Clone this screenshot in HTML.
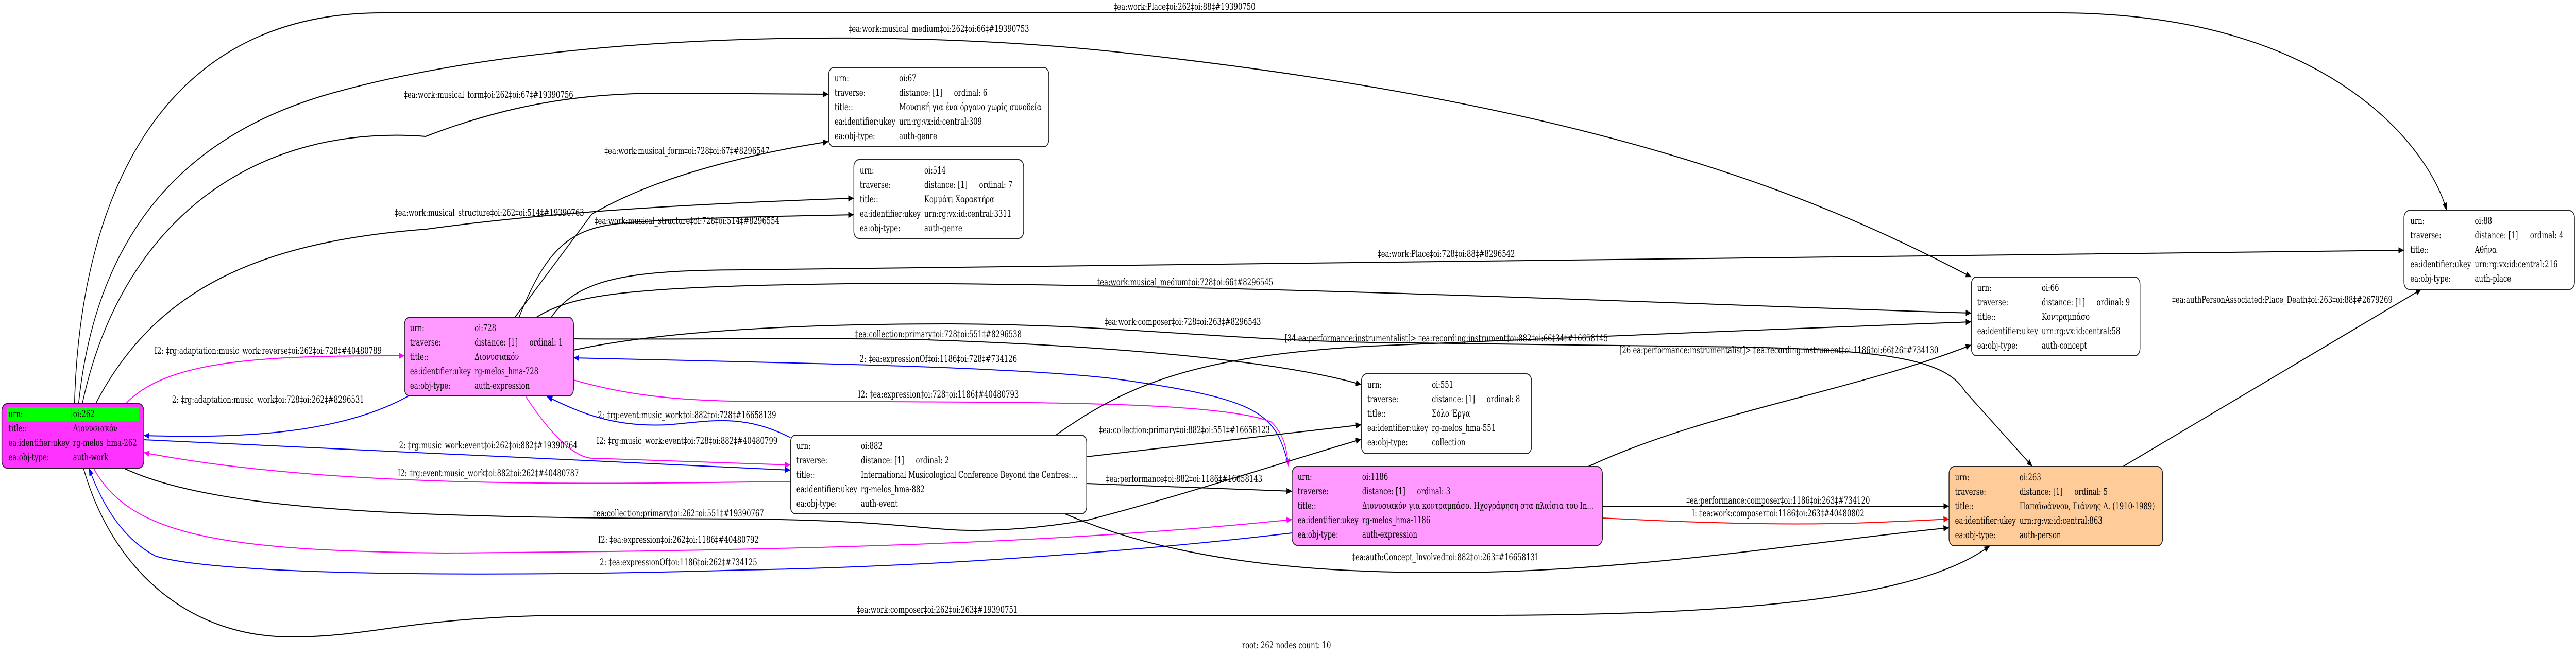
<!DOCTYPE html>
<html><head><meta charset="utf-8"><style>
html,body{margin:0;padding:0;background:#fff;width:100vw;height:100vh;overflow:hidden;}
svg{display:block;width:100vw;height:100vh;}
text{font-family:"DejaVu Serif","Liberation Serif",serif;font-size:18.4px;fill:#000;}
.e{fill:none;stroke-width:2;}
.k{stroke:#000;} .b{stroke:#0000ff;} .m{stroke:#ff00ff;} .r{stroke:#ff0000;}
.n{stroke:#222;stroke-width:2;}
.c{text-anchor:middle;}
</style></head><body>
<svg width="100%" height="100%" viewBox="0 0 6948 1274" preserveAspectRatio="none" xmlns="http://www.w3.org/2000/svg">
<defs>
<marker id="ak" markerUnits="userSpaceOnUse" markerWidth="16" markerHeight="12" refX="15" refY="6" orient="auto"><path d="M0,0 L15,6 L0,12 z" fill="#000"/></marker>
<marker id="ab" markerUnits="userSpaceOnUse" markerWidth="16" markerHeight="12" refX="15" refY="6" orient="auto"><path d="M0,0 L15,6 L0,12 z" fill="#0000ff"/></marker>
<marker id="am" markerUnits="userSpaceOnUse" markerWidth="16" markerHeight="12" refX="15" refY="6" orient="auto"><path d="M0,0 L15,6 L0,12 z" fill="#ff00ff"/></marker>
<marker id="ar" markerUnits="userSpaceOnUse" markerWidth="16" markerHeight="12" refX="15" refY="6" orient="auto"><path d="M0,0 L15,6 L0,12 z" fill="#ff0000"/></marker>
</defs>

<path class="e k" marker-end="url(#ak)" d="M201,784 C215,400 420,25 1030,25 L5550,25 C6300,25 6560,300 6599,409"/>
<text class="c" x="3195" y="19">‡ea:work:Place‡oi:262‡oi:88‡#19390750</text>

<path class="e k" marker-end="url(#ak)" d="M212,784 C260,450 500,260 900,180 C1500,60 2400,55 3000,100 C4300,200 4900,380 5317,538"/>
<text class="c" x="2532" y="62">‡ea:work:musical_medium‡oi:262‡oi:66‡#19390753</text>

<path class="e k" marker-end="url(#ak)" d="M222,784 C330,420 700,240 1148,265 C1400,195 1600,181 1800,181 L2235,183"/>
<text class="c" x="1318" y="190">‡ea:work:musical_form‡oi:262‡oi:67‡#19390756</text>

<path class="e k" marker-end="url(#ak)" d="M258,784 C420,560 700,470 1150,445 C1500,410 1900,395 2303,385"/>
<text class="c" x="1320" y="419">‡ea:work:musical_structure‡oi:262‡oi:514‡#19390763</text>

<path class="e k" marker-end="url(#ak)" d="M1389,616 L1596,416 C1800,330 2100,290 2235,275"/>
<text class="c" x="1853" y="299">‡ea:work:musical_form‡oi:728‡oi:67‡#8296547</text>

<path class="e k" marker-end="url(#ak)" d="M1400,616 C1480,470 1550,440 1700,432 C1900,422 2100,420 2303,417"/>
<text class="c" x="1853" y="435">‡ea:work:musical_structure‡oi:728‡oi:514‡#8296554</text>

<path class="e k" marker-end="url(#ak)" d="M1487,616 C1560,540 1700,525 2000,524 C2600,523 4500,500 6484,486"/>
<text class="c" x="3901" y="499">‡ea:work:Place‡oi:728‡oi:88‡#8296542</text>

<path class="e k" marker-end="url(#ak)" d="M1447,616 C1550,570 1700,555 2400,550 C3500,555 4500,590 5317,608"/>
<text class="c" x="3196" y="554">‡ea:work:musical_medium‡oi:728‡oi:66‡#8296545</text>

<path class="e k" marker-end="url(#ak)" d="M1547,680 C1800,640 2200,629 2560,629 C3000,630 3300,660 3700,665 L4700,674 C5100,680 5250,700 5300,760 L5482,906"/>
<text class="c" x="3190" y="631">‡ea:work:composer‡oi:728‡oi:263‡#8296543</text>

<path class="e k" marker-end="url(#ak)" d="M1547,658 C1800,660 2200,655 2500,660 C3000,672 3450,700 3672,747"/>
<text class="c" x="2531" y="655">‡ea:collection:primary‡oi:728‡oi:551‡#8296538</text>

<path class="e b" marker-end="url(#ab)" d="M3476,906 C3440,800 3400,775 3000,735 C2700,710 2000,703 1547,695"/>
<text class="c" x="2531" y="703">2: ‡ea:expressionOf‡oi:1186‡oi:728‡#734126</text>

<path class="e m" marker-end="url(#am)" d="M1547,738 C1800,790 2000,778 2400,780 C2800,782 3300,780 3430,820 C3470,850 3470,880 3476,906"/>
<text class="c" x="2531" y="772">I2: ‡ea:expression‡oi:728‡oi:1186‡#40480793</text>

<path class="e b" marker-end="url(#ab)" d="M2132,850 C2000,800 1900,820 1800,825 C1650,830 1560,800 1475,770"/>
<text class="c" x="1853" y="812">2: ‡rg:event:music_work‡oi:882‡oi:728‡#16658139</text>

<path class="e m" marker-end="url(#am)" d="M1418,770 C1500,860 1560,890 1600,890 L2132,903"/>
<text class="c" x="1853" y="862">I2: ‡rg:music_work:event‡oi:728‡oi:882‡#40480799</text>

<path class="e b" marker-end="url(#ab)" d="M388,854 L2132,913"/>
<text class="c" x="1317" y="871">2: ‡rg:music_work:event‡oi:262‡oi:882‡#19390764</text>

<path class="e m" marker-end="url(#am)" d="M2132,935 C1600,940 900,950 388,879"/>
<text class="c" x="1317" y="925">I2: ‡rg:event:music_work‡oi:882‡oi:262‡#40480787</text>

<path class="e b" marker-end="url(#ab)" d="M1102,769 C900,850 600,850 388,846"/>
<text class="c" x="723" y="782">2: ‡rg:adaptation:music_work‡oi:728‡oi:262‡#8296531</text>

<path class="e m" marker-end="url(#am)" d="M339,784 C450,700 700,690 1091,691"/>
<text class="c" x="723" y="687">I2: ‡rg:adaptation:music_work:reverse‡oi:262‡oi:728‡#40480789</text>

<path class="e k" marker-end="url(#ak)" d="M225,909 C300,1100 500,1237 786,1237 C1000,1237 1100,1200 1500,1195 L4000,1195 C4800,1195 5200,1150 5367,1060"/>
<text class="c" x="2528" y="1190">‡ea:work:composer‡oi:262‡oi:263‡#19390751</text>

<path class="e b" marker-end="url(#ab)" d="M3485,1035 C3200,1060 2600,1100 2000,1107 C1400,1120 600,1120 420,1080 C340,1050 280,990 240,909"/>
<text class="c" x="1830" y="1098">2: ‡ea:expressionOf‡oi:1186‡oi:262‡#734125</text>

<path class="e m" marker-end="url(#am)" d="M252,909 C350,1040 600,1070 1200,1074 C2000,1070 2800,1060 3485,1009"/>
<text class="c" x="1830" y="1054">I2: ‡ea:expression‡oi:262‡oi:1186‡#40480792</text>

<path class="e k" marker-end="url(#ak)" d="M333,909 C600,1000 1200,1005 2000,1008 C2400,1010 2500,1030 2620,1030 C2750,1030 2850,1020 2934,1010 C3200,960 3450,900 3672,853"/>
<text class="c" x="1830" y="1003">‡ea:collection:primary‡oi:262‡oi:551‡#19390767</text>

<path class="e k" marker-end="url(#ak)" d="M2931,939 L3485,954"/>
<text class="c" x="3194" y="936">‡ea:performance‡oi:882‡oi:1186‡#16658143</text>

<path class="e k" marker-end="url(#ak)" d="M2873,998 C3200,1100 3600,1112 3900,1112 C4400,1112 4900,1050 5257,1025"/>
<text class="c" x="3899" y="1088">‡ea:auth:Concept_Involved‡oi:882‡oi:263‡#16658131</text>

<path class="e k" marker-end="url(#ak)" d="M2848,845 C3050,740 3250,690 3700,672 C4200,655 4800,640 5317,625"/>
<text class="c" x="3901" y="663">[34 ea:performance:instrumentalist]&gt; ‡ea:recording:instrument‡oi:882‡oi:66‡34‡#16658145</text>

<path class="e k" marker-end="url(#ak)" d="M2931,887 L3672,825"/>
<text class="c" x="3195" y="841">‡ea:collection:primary‡oi:882‡oi:551‡#16658123</text>

<path class="e k" marker-end="url(#ak)" d="M4284,906 C4600,800 5000,760 5317,670"/>
<text class="c" x="4798" y="686">[26 ea:performance:instrumentalist]&gt; ‡ea:recording:instrument‡oi:1186‡oi:66‡26‡#734130</text>

<path class="e k" marker-end="url(#ak)" d="M4322,983 L5257,983"/>
<text class="c" x="4796" y="978">‡ea:performance:composer‡oi:1186‡oi:263‡#734120</text>

<path class="e r" marker-end="url(#ar)" d="M4322,1006 C4600,1016 4800,1020 5000,1016 C5100,1014 5200,1010 5257,1008"/>
<text class="c" x="4796" y="1003">I: ‡ea:work:composer‡oi:1186‡oi:263‡#40480802</text>

<path class="e k" marker-end="url(#ak)" d="M5726,906 L6531,562"/>
<text class="c" x="6156" y="588">‡ea:authPersonAssociated:Place_Death‡oi:263‡oi:88‡#2679269</text>

<rect class="n" x="5" y="784" width="383" height="125" rx="14" fill="#ff33ff"/>
<rect x="19" y="790" width="173" height="27" fill="#00ff00"/>
<rect x="194" y="790" width="181" height="27" fill="#00ff00"/>
<text x="23" y="810">urn:</text><text x="197" y="810">oi:262</text>
<text x="23" y="838">title::</text><text x="197" y="838">Διονυσιακόν</text>
<text x="23" y="866">ea:identifier:ukey</text><text x="197" y="866">rg-melos_hma-262</text>
<text x="23" y="894">ea:obj-type:</text><text x="197" y="894">auth-work</text>

<rect class="n" x="1091" y="616" width="456" height="153" rx="14" fill="#ff99ff"/>
<text x="1106" y="643">urn:</text><text x="1280" y="643">oi:728</text>
<text x="1106" y="671">traverse:</text><text x="1280" y="671">distance: [1]</text><text x="1428" y="671">ordinal: 1</text>
<text x="1106" y="699">title::</text><text x="1280" y="699">Διονυσιακόν</text>
<text x="1106" y="727">ea:identifier:ukey</text><text x="1280" y="727">rg-melos_hma-728</text>
<text x="1106" y="755">ea:obj-type:</text><text x="1280" y="755">auth-expression</text>

<rect class="n" x="2235" y="131" width="594" height="154" rx="14" fill="#fff"/>
<text x="2251" y="158">urn:</text><text x="2425" y="158">oi:67</text>
<text x="2251" y="186">traverse:</text><text x="2425" y="186">distance: [1]</text><text x="2573" y="186">ordinal: 6</text>
<text x="2251" y="214">title::</text><text x="2425" y="214">Μουσική για ένα όργανο χωρίς συνοδεία</text>
<text x="2251" y="242">ea:identifier:ukey</text><text x="2425" y="242">urn:rg:vx:id:central:309</text>
<text x="2251" y="270">ea:obj-type:</text><text x="2425" y="270">auth-genre</text>

<rect class="n" x="2303" y="310" width="458" height="153" rx="14" fill="#fff"/>
<text x="2319" y="337">urn:</text><text x="2493" y="337">oi:514</text>
<text x="2319" y="365">traverse:</text><text x="2493" y="365">distance: [1]</text><text x="2641" y="365">ordinal: 7</text>
<text x="2319" y="393">title::</text><text x="2493" y="393">Κομμάτι Χαρακτήρα</text>
<text x="2319" y="421">ea:identifier:ukey</text><text x="2493" y="421">urn:rg:vx:id:central:3311</text>
<text x="2319" y="449">ea:obj-type:</text><text x="2493" y="449">auth-genre</text>

<rect class="n" x="2132" y="845" width="799" height="153" rx="14" fill="#fff"/>
<text x="2148" y="872">urn:</text><text x="2322" y="872">oi:882</text>
<text x="2148" y="900">traverse:</text><text x="2322" y="900">distance: [1]</text><text x="2470" y="900">ordinal: 2</text>
<text x="2148" y="928">title::</text><text x="2322" y="928">International Musicological Conference Beyond the Centres:...</text>
<text x="2148" y="956">ea:identifier:ukey</text><text x="2322" y="956">rg-melos_hma-882</text>
<text x="2148" y="984">ea:obj-type:</text><text x="2322" y="984">auth-event</text>

<rect class="n" x="3485" y="906" width="837" height="153" rx="14" fill="#ff99ff"/>
<text x="3500" y="932">urn:</text><text x="3674" y="932">oi:1186</text>
<text x="3500" y="960">traverse:</text><text x="3674" y="960">distance: [1]</text><text x="3822" y="960">ordinal: 3</text>
<text x="3500" y="988">title::</text><text x="3674" y="988">Διονυσιακόν για κοντραμπάσο. Ηχογράφηση στα πλαίσια του In...</text>
<text x="3500" y="1016">ea:identifier:ukey</text><text x="3674" y="1016">rg-melos_hma-1186</text>
<text x="3500" y="1044">ea:obj-type:</text><text x="3674" y="1044">auth-expression</text>

<rect class="n" x="3672" y="726" width="459" height="155" rx="14" fill="#fff"/>
<text x="3688" y="753">urn:</text><text x="3862" y="753">oi:551</text>
<text x="3688" y="781">traverse:</text><text x="3862" y="781">distance: [1]</text><text x="4010" y="781">ordinal: 8</text>
<text x="3688" y="809">title::</text><text x="3862" y="809">Σόλο Έργα</text>
<text x="3688" y="837">ea:identifier:ukey</text><text x="3862" y="837">rg-melos_hma-551</text>
<text x="3688" y="865">ea:obj-type:</text><text x="3862" y="865">collection</text>

<rect class="n" x="5317" y="538" width="455" height="153" rx="14" fill="#fff"/>
<text x="5333" y="565">urn:</text><text x="5507" y="565">oi:66</text>
<text x="5333" y="593">traverse:</text><text x="5507" y="593">distance: [1]</text><text x="5655" y="593">ordinal: 9</text>
<text x="5333" y="621">title::</text><text x="5507" y="621">Κοντραμπάσο</text>
<text x="5333" y="649">ea:identifier:ukey</text><text x="5507" y="649">urn:rg:vx:id:central:58</text>
<text x="5333" y="677">ea:obj-type:</text><text x="5507" y="677">auth-concept</text>

<rect class="n" x="5257" y="906" width="576" height="154" rx="14" fill="#ffcc99"/>
<text x="5273" y="933">urn:</text><text x="5447" y="933">oi:263</text>
<text x="5273" y="961">traverse:</text><text x="5447" y="961">distance: [1]</text><text x="5595" y="961">ordinal: 5</text>
<text x="5273" y="989">title::</text><text x="5447" y="989">Παπαϊωάννου, Γιάννης Α. (1910-1989)</text>
<text x="5273" y="1017">ea:identifier:ukey</text><text x="5447" y="1017">urn:rg:vx:id:central:863</text>
<text x="5273" y="1045">ea:obj-type:</text><text x="5447" y="1045">auth-person</text>

<rect class="n" x="6484" y="409" width="460" height="153" rx="14" fill="#fff"/>
<text x="6501" y="435">urn:</text><text x="6675" y="435">oi:88</text>
<text x="6501" y="463">traverse:</text><text x="6675" y="463">distance: [1]</text><text x="6824" y="463">ordinal: 4</text>
<text x="6501" y="491">title::</text><text x="6675" y="491">Αθήνα</text>
<text x="6501" y="519">ea:identifier:ukey</text><text x="6675" y="519">urn:rg:vx:id:central:216</text>
<text x="6501" y="547">ea:obj-type:</text><text x="6675" y="547">auth-place</text>

<text class="c" x="3470" y="1259">root: 262 nodes count: 10</text>
</svg>
</body></html>
